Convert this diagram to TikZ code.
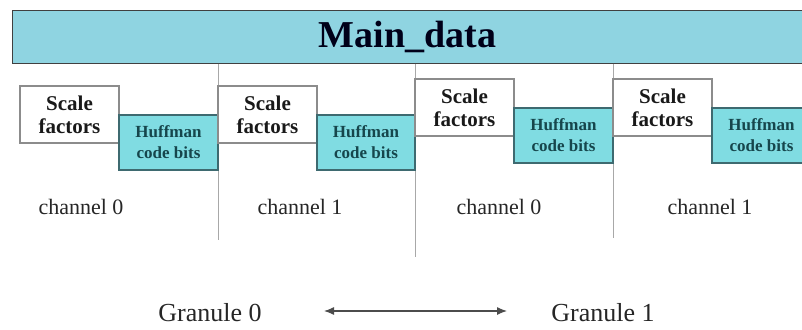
\documentclass[tikz,border=0pt]{standalone}
\usepackage{fontspec}
\setmainfont{Liberation Serif}
\usetikzlibrary{arrows.meta}

\definecolor{barfill}{HTML}{8FD4E1}
\definecolor{hufffill}{HTML}{80DCE2}
\definecolor{huffedge}{HTML}{3E6A70}
\definecolor{hufftext}{HTML}{16464C}
\definecolor{scaleedge}{HTML}{8C8C8C}
\definecolor{divline}{HTML}{A8A8A8}

\tikzset{
  mainbar/.style={draw=black!75, line width=1pt, fill=barfill, inner sep=0pt,
    minimum width=791pt, minimum height=52pt,
    font=\fontsize{38}{40}\selectfont\bfseries, text=black!90!blue},
  scalebox/.style={draw=scaleedge, line width=1.2pt, fill=white, inner sep=0pt,
    minimum width=99pt, minimum height=57pt, align=center,
    font=\fontsize{21}{23}\selectfont\bfseries, text=black!90},
  huffbox/.style={draw=huffedge, line width=1.2pt, fill=hufffill, inner sep=0pt,
    minimum width=99pt, minimum height=55pt, align=center,
    font=\fontsize{17}{21}\selectfont\bfseries, text=hufftext},
  chanlabel/.style={anchor=base, inner sep=0pt, font=\fontsize{22}{24}\selectfont, text=black!85},
  granlabel/.style={anchor=base, inner sep=0pt, font=\fontsize{26}{28}\selectfont, text=black!85},
  divider/.style={draw=divline, line width=0.8pt},
  granarrow/.style={draw=black!70, line width=1.2pt,
    {Latex[length=10pt,width=8pt]}-{Latex[length=10pt,width=8pt]}}
}

\begin{document}
\begin{tikzpicture}[x=1pt, y=-1pt]
  \clip (0,0) rectangle (802,329);
  \fill[white] (0,0) rectangle (802,329);

  % header bar
  \node[mainbar] (bar) at (407.5,37) {Main\_data};

  % end points of the granule / channel dividers
  \coordinate (d1) at (218,240);
  \coordinate (d2) at (415,257);
  \coordinate (d3) at (613,238);
  \draw[divider] (bar.south -| d1) -- (d1);
  \draw[divider] (bar.south -| d2) -- (d2);
  \draw[divider] (bar.south -| d3) -- (d3);

  % granule 0
  \node[scalebox] (s1) at (69.5,114.5) {Scale\\factors};
  \node[huffbox]  (h1) at (168.5,142.5) {Huffman\\code bits};
  \node[scalebox] (s2) at (267.5,114.5) {Scale\\factors};
  \node[huffbox, minimum width=98pt] (h2) at (366,142.5) {Huffman\\code bits};

  % granule 1
  \node[scalebox] (s3) at (464.5,107.5) {Scale\\factors};
  \node[huffbox]  (h3) at (563.5,135.5) {Huffman\\code bits};
  \node[scalebox] (s4) at (662.5,107.5) {Scale\\factors};
  \node[huffbox]  (h4) at (761.5,135.5) {Huffman\\code bits};

  % channel labels
  \node[chanlabel] (c1) at (81,214)  {channel 0};
  \node[chanlabel] (c2) at (300,214) {channel 1};
  \node[chanlabel] (c3) at (499,214) {channel 0};
  \node[chanlabel] (c4) at (710,214) {channel 1};

  % granule labels
  \node[granlabel] (g0) at (210,321) {Granule 0};
  \node[granlabel] (g1) at (603,321) {Granule 1};

  \coordinate (al) at (324,311);
  \coordinate (ar) at (507,311);
  \draw[granarrow] (al) -- (ar);
\end{tikzpicture}
\end{document}
